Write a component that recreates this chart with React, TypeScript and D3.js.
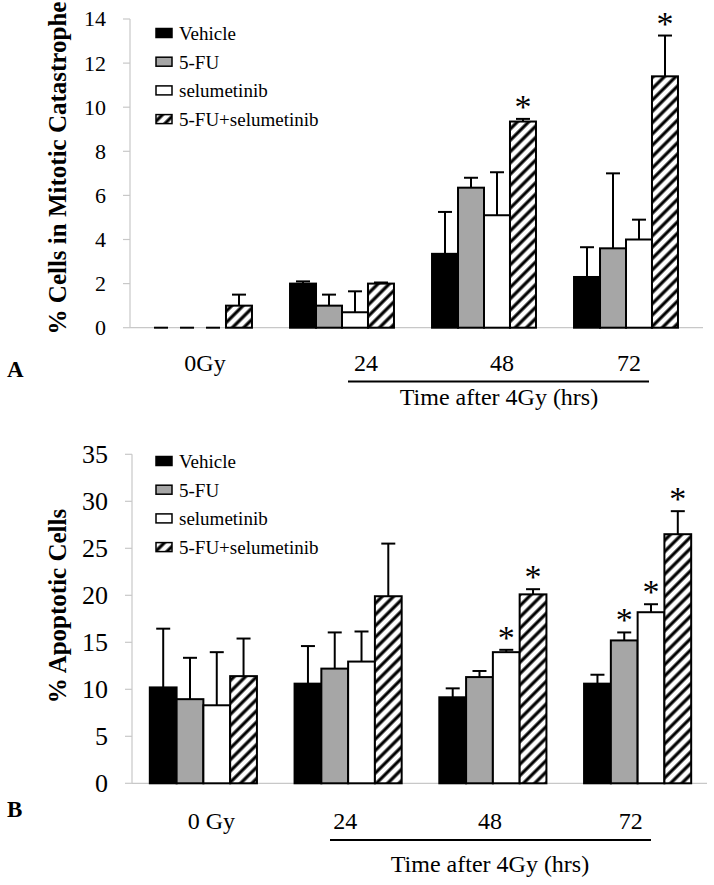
import * as d3 from 'd3';

const SERIES = ['Vehicle', '5-FU', 'selumetinib', '5-FU+selumetinib'];
const GROUPS_A = ['0Gy', '24', '48', '72'];
const GROUPS_B = ['0 Gy', '24', '48', '72'];
const TIME_LABEL = 'Time after 4Gy (hrs)';

// panel A: % cells in mitotic catastrophe (one row per series)
const mitoticMean = [
  [0, 2.0, 3.35, 2.3],
  [0, 1.0, 6.35, 3.6],
  [0, 0.7, 5.1, 4.0],
  [1.0, 2.0, 9.35, 11.4],
];
const mitoticErr = [
  [0, 0.1, 1.9, 1.35],
  [0, 0.5, 0.45, 3.4],
  [0, 0.95, 1.95, 0.9],
  [0.5, 0.05, 0.12, 1.85],
];
const mitoticSig = [
  [false, false, false, false],
  [false, false, false, false],
  [false, false, false, false],
  [false, false, true, true],
];
const mitoticTicks = [0, 2, 4, 6, 8, 10, 12, 14];

// panel B: % apoptotic cells
const apoptoticMean = [
  [10.2, 10.6, 9.15, 10.6],
  [8.95, 12.2, 11.3, 15.2],
  [8.3, 12.95, 13.95, 18.2],
  [11.4, 19.9, 20.1, 26.5],
];
const apoptoticErr = [
  [6.25, 4.0, 0.95, 0.95],
  [4.4, 3.85, 0.65, 0.85],
  [5.65, 3.2, 0.25, 0.85],
  [4.0, 5.6, 0.55, 2.45],
];
const apoptoticSig = [
  [false, false, false, false],
  [false, false, false, true],
  [false, false, true, true],
  [false, false, true, true],
];
const apoptoticTicks = [0, 5, 10, 15, 20, 25, 30, 35];

const FILLS = ['#000000', '#a6a6a6', '#ffffff', 'url(#hatch)'];
const FONT = '"Liberation Serif", "Times New Roman", serif';
const AXIS_GREY = '#c8c8c8';

interface Layout {
  axisX: number;
  x0: number;
  x1: number;
  axisEnd: number;
  yTop: number;
  yBottom: number;
  pad: number;
  tickFont: number;
  titleY: number;
  labelDx: number[];
  labelY: number;
  lineY: number;
  lineX: [number, number];
  timeX: number;
  timeY: number;
  letter: string;
  letterY: number;
  legendY: number;
}

const layoutA: Layout = {
  axisX: 130, x0: 129, x1: 697, axisEnd: 703, yTop: 19, yBottom: 327.7, pad: 0.268,
  tickFont: 22, titleY: 168, labelDx: [5, 24, 18, 3], labelY: 371, lineY: 381.5,
  lineX: [348, 649], timeX: 499, timeY: 405, letter: 'A', letterY: 377, legendY: 40,
};
const layoutB: Layout = {
  axisX: 132, x0: 131, x1: 710, axisEnd: 707, yTop: 454.3, yBottom: 783.3, pad: 0.26,
  tickFont: 26, titleY: 606, labelDx: [8, -3, -3, -7], labelY: 829, lineY: 840,
  lineX: [330, 651], timeX: 490, timeY: 872, letter: 'B', letterY: 817, legendY: 468,
};

interface PanelProps {
  groups: string[];
  mean: number[][];
  err: number[][];
  sig: boolean[][];
  ticks: number[];
  title: string;
  L: Layout;
}

function Panel({ groups, mean, err, sig, ticks, title, L }: PanelProps) {
  const x = d3.scaleBand<string>().domain(groups).range([L.x0, L.x1])
    .paddingInner(L.pad).paddingOuter(L.pad / 2);
  const xs = d3.scaleBand<string>().domain(SERIES).range([0, x.bandwidth()]);
  const y = d3.scaleLinear().domain([ticks[0], ticks[ticks.length - 1]]).range([L.yBottom, L.yTop]);
  const bw = xs.bandwidth();

  return (
    <g>
      {/* axes */}
      <line x1={L.axisX} x2={L.axisX} y1={L.yTop} y2={L.yBottom} stroke={AXIS_GREY} strokeWidth={1.2} />
      <line x1={L.axisX} x2={L.axisEnd} y1={L.yBottom} y2={L.yBottom} stroke={AXIS_GREY} strokeWidth={1.2} />
      {ticks.map((t) => (
        <g key={t}>
          <line x1={L.axisX - 7} x2={L.axisX} y1={y(t)} y2={y(t)} stroke={AXIS_GREY} strokeWidth={1.2} />
          <text x={L.axisX - 24} y={y(t)} dy="0.34em" textAnchor="end" fontSize={L.tickFont}>{t}</text>
        </g>
      ))}
      <text transform={`translate(57,${L.titleY}) rotate(-90)`} textAnchor="middle" dy="0.35em"
        fontSize={25} fontWeight="bold">{title}</text>

      {/* bars */}
      {SERIES.map((s, si) => groups.map((g, gi) => {
        const bx = (x(g) ?? 0) + (xs(s) ?? 0);
        const v = mean[si][gi];
        const top = y(v);
        const etop = y(v + err[si][gi]);
        const cx = bx + bw / 2;
        return (
          <g key={`${s}-${g}`}>
            {v > 0 && (
              <rect x={bx} y={top} width={bw} height={y(0) - top} fill={FILLS[si]}
                stroke="#000" strokeWidth={2} />
            )}
            <line x1={cx} x2={cx} y1={top} y2={etop} stroke="#000" strokeWidth={2} />
            <line x1={cx - 7} x2={cx + 7} y1={etop} y2={etop} stroke="#000" strokeWidth={2} />
            {sig[si][gi] && (
              <text x={cx} y={etop - 18} dy={0.5 * 34} textAnchor="middle" fontSize={34}>*</text>
            )}
          </g>
        );
      }))}

      {/* legend */}
      {SERIES.map((s, si) => {
        const ly = L.legendY + si * 28.7;
        return (
          <g key={s}>
            <rect x={156} y={ly - 11.5} width={16} height={9} fill={FILLS[si]} stroke="#000" strokeWidth={1.5} />
            <text x={179} y={ly} fontSize={19}>{s}</text>
          </g>
        );
      })}

      {/* category labels */}
      {groups.map((g, gi) => (
        <text key={g} x={(x(g) ?? 0) + x.bandwidth() / 2 + L.labelDx[gi]} y={L.labelY}
          textAnchor="middle" fontSize={24}>{g}</text>
      ))}
      <line x1={L.lineX[0]} x2={L.lineX[1]} y1={L.lineY} y2={L.lineY} stroke="#000" strokeWidth={2} />
      <text x={L.timeX} y={L.timeY} textAnchor="middle" fontSize={24}>{TIME_LABEL}</text>
      <text x={7} y={L.letterY} fontSize={23} fontWeight="bold">{L.letter}</text>
    </g>
  );
}

export default function App() {
  return (
    <svg width={714} height={885} style={{ position: 'absolute', left: 0, top: 0, background: '#fff' }}
      fontFamily={FONT}>
      <defs>
        <pattern id="hatch" patternUnits="userSpaceOnUse" width={8} height={8} patternTransform="rotate(45)">
          <rect width={8} height={8} fill="#fff" />
          <line x1={4} y1={0} x2={4} y2={8} stroke="#000" strokeWidth={3.2} />
        </pattern>
      </defs>
      <rect width={714} height={885} fill="#fff" />
      <Panel groups={GROUPS_A} mean={mitoticMean} err={mitoticErr} sig={mitoticSig}
        ticks={mitoticTicks} title="% Cells in Mitotic Catastrophe" L={layoutA} />
      <Panel groups={GROUPS_B} mean={apoptoticMean} err={apoptoticErr} sig={apoptoticSig}
        ticks={apoptoticTicks} title="% Apoptotic Cells" L={layoutB} />
    </svg>
  );
}
